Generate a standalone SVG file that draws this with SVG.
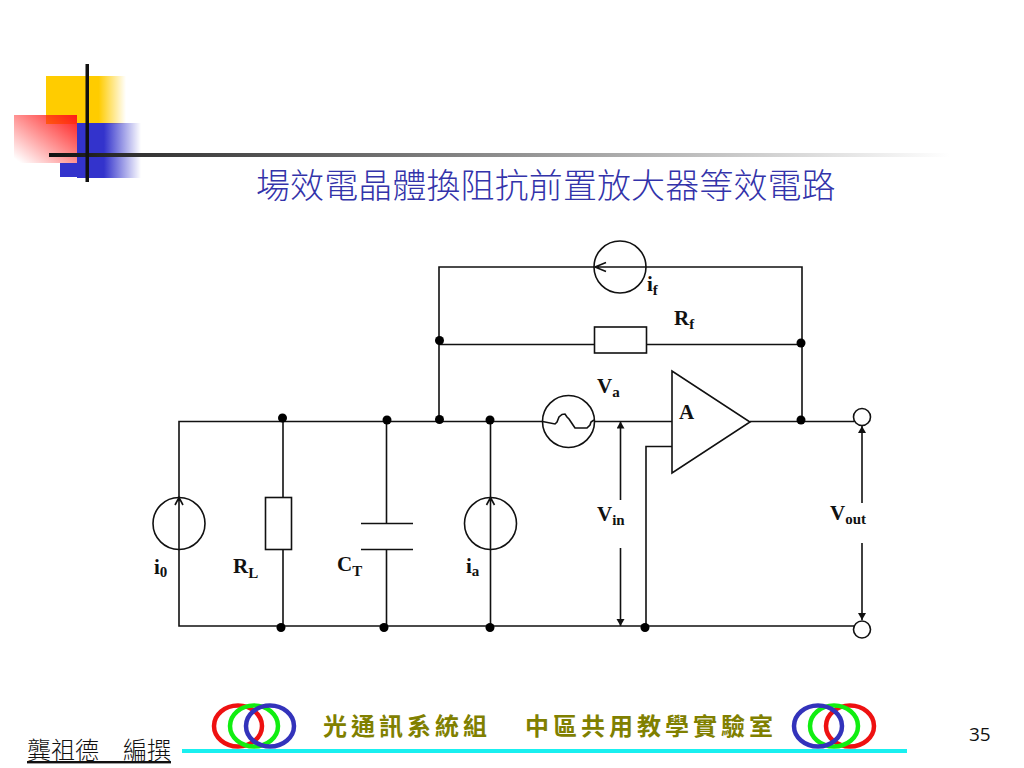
<svg xmlns="http://www.w3.org/2000/svg" width="1024" height="768" viewBox="0 0 1024 768">
<style>
.w{fill:none;stroke:#111;stroke-width:1.6}
.s{fill:#fff;stroke:#111;stroke-width:1.6}
.d{fill:#000}
.l{font-family:"Liberation Serif",serif;font-weight:bold;font-size:21px;fill:#111}
.sub{font-size:15px}
.r{fill:none;stroke-width:4.5}
.o{font-family:"Noto Sans CJK TC",serif;font-weight:700;font-size:24px;letter-spacing:4px;fill:#808000}
</style>
<defs>
<linearGradient id="gy" x1="0" x2="1" y1="0" y2="0"><stop offset="0.66" stop-color="#ffcc00"/><stop offset="1" stop-color="#ffcc00" stop-opacity="0"/></linearGradient>
<linearGradient id="gb" x1="0" x2="1" y1="0" y2="0"><stop offset="0.42" stop-color="#3333cc"/><stop offset="1" stop-color="#3333cc" stop-opacity="0"/></linearGradient>
<linearGradient id="gr" x1="1" x2="0" y1="0" y2="1"><stop offset="0" stop-color="#ff1a1a"/><stop offset="0.95" stop-color="#ff1a1a" stop-opacity="0"/></linearGradient>
<linearGradient id="gl" gradientUnits="userSpaceOnUse" x1="49" x2="950" y1="0" y2="0"><stop offset="0" stop-color="#111"/><stop offset="0.1" stop-color="#333"/><stop offset="1" stop-color="#fff"/></linearGradient>
<marker id="a" markerWidth="8" markerHeight="10" refX="7" refY="4" orient="auto" markerUnits="userSpaceOnUse"><path d="M0 0L7 4L0 8Z" fill="#111"/></marker>
</defs>

<g id="logo">
<rect x="46" y="76" width="80" height="48" fill="url(#gy)"/>
<rect x="60" y="163" width="20" height="14" fill="#3333cc"/>
<rect x="77" y="123" width="64" height="55" fill="url(#gb)"/>
<rect x="14" y="115" width="63" height="48" fill="url(#gr)"/>
<rect x="49" y="153" width="901" height="4" fill="url(#gl)"/>
<rect x="85.500" y="64" width="3.500" height="118" fill="#111"/>
</g>

<text id="title" x="256" y="198" font-family="'Noto Sans CJK TC',sans-serif" font-weight="300" font-size="34" letter-spacing="0.1" fill="#3333aa">場效電晶體換阻抗前置放大器等效電路</text>

<g id="connectors">
<path class="w" d="M179 497V421.500H542M595 421.500H672M750 421.500H854"/>
<path class="w" d="M179 550V626H854"/>
<path class="w" d="M283 421V497M283 550V626"/>
<path class="w" d="M386.500 421V523M386.500 549V626"/>
<path class="w" d="M490.500 421V497M490.500 550V626"/>
<path class="w" d="M439 421V267H594M646 267H802V421.500"/>
<path class="w" d="M439 344.500H594M647 344.500H802"/>
<path class="w" d="M646 626V446.500H672"/>
<path class="w" marker-end="url(#a)" d="M620.500 500V421.500"/>
<path class="w" marker-end="url(#a)" d="M620.500 548V626"/>
<path class="w" marker-end="url(#a)" d="M862 503V426"/>
<path class="w" marker-end="url(#a)" d="M862 543V620"/>
</g>

<g id="junctions">
<circle class="d" cx="282.500" cy="418" r="4.500"/><circle class="d" cx="387" cy="420" r="4.500"/>
<circle class="d" cx="439.500" cy="419.500" r="4.500"/><circle class="d" cx="490" cy="420" r="4.500"/>
<circle class="d" cx="439.500" cy="340.500" r="4.500"/><circle class="d" cx="801" cy="343" r="4.500"/>
<circle class="d" cx="801" cy="420" r="4.500"/>
<circle class="d" cx="281" cy="627.500" r="4.500"/><circle class="d" cx="384" cy="627.500" r="4.500"/>
<circle class="d" cx="490" cy="627.500" r="4.500"/><circle class="d" cx="645" cy="627.500" r="4.500"/>
</g>

<g id="i0"><circle class="w" cx="179" cy="523.500" r="26"/><path class="w" d="M179 549.500V497.500M175 505L179 497.500L183 505"/>
<text class="l" x="154" y="574">i<tspan class="sub" dy="3">0</tspan></text></g>
<g id="RL"><rect class="s" x="265.500" y="497.500" width="26" height="52"/>
<text class="l" x="233" y="573">R<tspan class="sub" dy="5">L</tspan></text></g>
<g id="CT"><path class="w" d="M361 523.500H413M361 549.500H413"/>
<text class="l" x="337" y="571">C<tspan class="sub" dy="5">T</tspan></text></g>
<g id="ia"><circle class="w" cx="490.500" cy="523.500" r="26"/><path class="w" d="M490.500 549.500V497.500M486.500 505L490.500 497.500L494.500 505"/>
<text class="l" x="466" y="573">i<tspan class="sub" dy="3">a</tspan></text></g>
<g id="if"><circle class="w" cx="620" cy="267" r="26"/><path class="w" d="M646 267H595M606 262.500L595 267L606 271.500"/>
<text class="l" x="647" y="291">i<tspan class="sub" dy="4">f</tspan></text></g>
<g id="Rf"><rect class="s" x="594.500" y="327" width="52" height="26"/>
<text class="l" x="674" y="325">R<tspan class="sub" dy="4">f</tspan></text></g>
<g id="Va"><circle class="w" cx="568.500" cy="421.500" r="26"/><path class="w" d="M542.500 421.500L555 424L557 422L559 417L562 414.500L565 414L567 417L569 419L571 422L573 425L575 428H587L590 425L591 422L594 420"/>
<text class="l" x="597" y="393">V<tspan class="sub" dy="4">a</tspan></text></g>
<g id="A"><path class="s" d="M672 371V473L750 422Z"/>
<text class="l" x="679" y="419">A</text></g>
<g id="Vin"><text class="l" x="597" y="521">V<tspan class="sub" dy="4">in</tspan></text></g>
<g id="Vout"><text class="l" x="830" y="520">V<tspan class="sub" dy="4">out</tspan></text></g>
<g id="out-top"><circle class="s" cx="862" cy="417" r="8.500"/></g>
<g id="out-bottom"><circle class="s" cx="862" cy="629.500" r="8.500"/></g>

<g id="footer">
<rect x="182" y="749" width="725" height="4" fill="#19f0f0"/>
<ellipse class="r" cx="238" cy="726" rx="24" ry="20.500" stroke="#ee1111"/>
<ellipse class="r" cx="254" cy="726" rx="24" ry="20.500" stroke="#11ee11"/>
<ellipse class="r" cx="270" cy="726" rx="24" ry="20.500" stroke="#3333bb"/>
<ellipse class="r" cx="850" cy="726" rx="24" ry="20.500" stroke="#ee1111"/>
<ellipse class="r" cx="834" cy="726" rx="24" ry="20.500" stroke="#11ee11"/>
<ellipse class="r" cx="818" cy="726" rx="24" ry="20.500" stroke="#3333bb"/>
<text x="27" y="759" font-family="'Noto Sans CJK TC',sans-serif" font-weight="300" font-size="24" fill="#111" text-decoration="underline" xml:space="preserve">龔祖德　編撰</text>
<text class="o" x="323" y="735">光通訊系統組</text>
<text class="o" x="525" y="735">中區共用教學實驗室</text>
<text x="969" y="741" font-family="'Open Sans',sans-serif" font-size="19" fill="#111">35</text>
</g>
</svg>
